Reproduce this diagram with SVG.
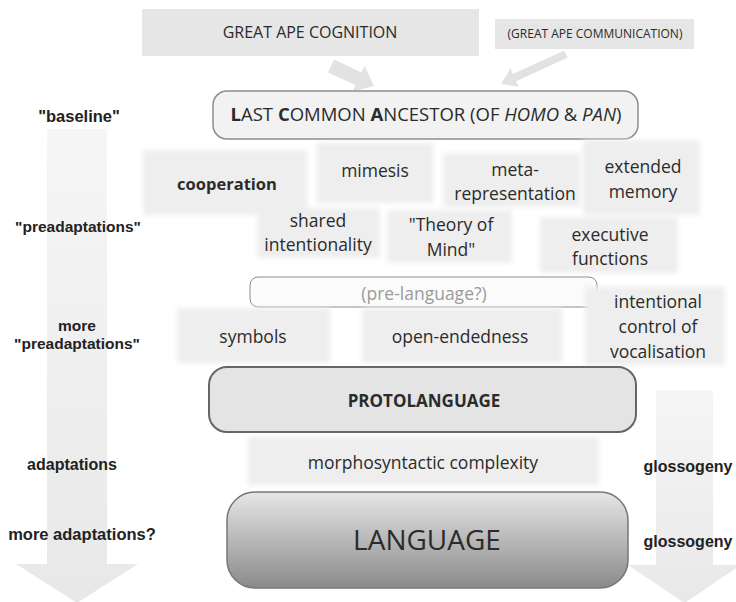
<svg xmlns="http://www.w3.org/2000/svg" width="736" height="602" viewBox="0 0 736 602">
<defs>
<linearGradient id="bigArrow" x1="0" y1="0" x2="0" y2="1">
<stop offset="0" stop-color="#f6f6f6"/>
<stop offset="1" stop-color="#e8e8e8"/>
</linearGradient>
<linearGradient id="langFill" x1="0" y1="0" x2="0" y2="1">
<stop offset="0" stop-color="#e6e6e6"/>
<stop offset="1" stop-color="#8a8a8a"/>
</linearGradient>
<filter id="soft" x="-10%" y="-20%" width="120%" height="140%">
<feGaussianBlur stdDeviation="2.5"/>
</filter>
</defs>
<style>
.t{font-family:"Open Sans","Liberation Sans",sans-serif;font-size:17.5px;fill:#2b2b2b;text-anchor:middle}
.lbl{font-family:"Liberation Sans",Arial,sans-serif;font-size:16px;font-weight:bold;fill:#222;text-anchor:middle}
.soft{fill:#eeeeee;filter:url(#soft)}
.flat{fill:#e6e6e6}
.tarrow{fill:#e2e2e2}
</style>
<rect width="736" height="602" fill="#ffffff"/>

<g id="connectors">
<polygon class="tarrow" points="334,59.6 361.6,72.5 364.5,66.1 374,86 352.7,91.5 355.6,85.1 328,72.4"/>
<polygon class="tarrow" points="564.3,50.4 512.9,74.1 510.4,68.6 501,84 518.8,86.8 516.3,81.3 567.7,57.6"/>
<polygon id="timeline-left" fill="url(#bigArrow)" points="47,129 107,129 107,564 138,564 77,603 16,564 47,564"/>
<polygon id="timeline-right" fill="url(#bigArrow)" points="656,390 713,390 713,565 741,565 684.5,603 628,565 656,565"/>
</g>

<g id="stage-labels">
<text class="lbl" x="79" y="122" style="font-size:16.5px">"baseline"</text>
<text class="lbl" x="78" y="232" style="font-size:15.5px">"preadaptations"</text>
<text class="lbl" x="77" y="331" style="font-size:15.5px">more</text>
<text class="lbl" x="77" y="349" style="font-size:15.5px">"preadaptations"</text>
<text class="lbl" x="72" y="470">adaptations</text>
<text class="lbl" x="82" y="540" style="font-size:16.5px">more adaptations?</text>
<text class="lbl" x="688" y="472">glossogeny</text>
<text class="lbl" x="688" y="547">glossogeny</text>
</g>

<g id="great-ape-cognition">
<rect class="flat" x="142" y="9" width="337" height="47"/>
<text class="t" x="310" y="38" style="font-size:16px">GREAT APE COGNITION</text>
</g>
<g id="great-ape-communication">
<rect class="flat" x="495" y="19" width="199" height="30" fill="#e8e8e8"/>
<text class="t" x="595" y="38" style="font-size:12px">(GREAT APE COMMUNICATION)</text>
</g>

<g id="lca">
<rect x="213" y="91" width="425" height="48" rx="14" fill="#f2f2f2" stroke="#8c8c8c" stroke-width="1.5"/>
<text class="t" x="426" y="121" style="font-size:18.5px"><tspan font-weight="bold">L</tspan>AST <tspan font-weight="bold">C</tspan>OMMON <tspan font-weight="bold">A</tspan>NCESTOR (OF <tspan font-style="italic">HOMO</tspan> &amp; <tspan font-style="italic">PAN</tspan>)</text>
</g>

<g id="cooperation">
<rect class="soft" x="143" y="150" width="164" height="65"/>
<text class="t" x="227" y="190" font-weight="bold" style="font-size:16.5px">cooperation</text>
</g>
<g id="mimesis">
<rect class="soft" x="317" y="143" width="116" height="60"/>
<text class="t" x="375" y="177">mimesis</text>
</g>
<g id="meta-representation">
<rect class="soft" x="443" y="153" width="137" height="54"/>
<text class="t" x="515" y="176">meta-</text>
<text class="t" x="515" y="200">representation</text>
</g>
<g id="extended-memory">
<rect class="soft" x="583" y="140" width="117" height="75"/>
<text class="t" x="643" y="173">extended</text>
<text class="t" x="643" y="198">memory</text>
</g>
<g id="shared-intentionality">
<rect class="soft" x="257" y="208" width="123" height="50"/>
<text class="t" x="318" y="227">shared</text>
<text class="t" x="318" y="251">intentionality</text>
</g>
<g id="theory-of-mind">
<rect class="soft" x="387" y="210" width="125" height="53"/>
<text class="t" x="451" y="231">"Theory of</text>
<text class="t" x="451" y="256">Mind"</text>
</g>
<g id="executive-functions">
<rect class="soft" x="540" y="217" width="138" height="56"/>
<text class="t" x="610" y="241">executive</text>
<text class="t" x="610" y="265">functions</text>
</g>

<g id="pre-language">
<rect x="250" y="277" width="347" height="30" rx="8" fill="#fbfbfb" stroke="#8c8c8c" stroke-width="1"/>
<text class="t" x="424" y="300" style="fill:#9a9a9a">(pre-language?)</text>
</g>

<g id="symbols">
<rect class="soft" x="177" y="308" width="153" height="55"/>
<text class="t" x="253" y="343">symbols</text>
</g>
<g id="open-endedness">
<rect class="soft" x="362" y="308" width="200" height="55"/>
<text class="t" x="460" y="343">open-endedness</text>
</g>
<g id="intentional-control">
<rect class="soft" x="585" y="287" width="140" height="78"/>
<text class="t" x="658" y="308">intentional</text>
<text class="t" x="658" y="333">control of</text>
<text class="t" x="658" y="358">vocalisation</text>
</g>

<g id="protolanguage">
<rect x="209" y="367" width="427" height="65" rx="18" fill="#e4e4e4" stroke="#666666" stroke-width="2"/>
<text class="t" x="424" y="407" font-weight="bold" style="font-size:17px">PROTOLANGUAGE</text>
</g>

<g id="morphosyntactic-complexity">
<rect class="soft" x="248" y="437" width="351" height="48"/>
<text class="t" x="423" y="469">morphosyntactic complexity</text>
</g>

<g id="language">
<rect x="227" y="492" width="401" height="96" rx="28" fill="url(#langFill)" stroke="#777777" stroke-width="1.5"/>
<text class="t" x="427" y="550" style="font-size:28px">LANGUAGE</text>
</g>
</svg>
